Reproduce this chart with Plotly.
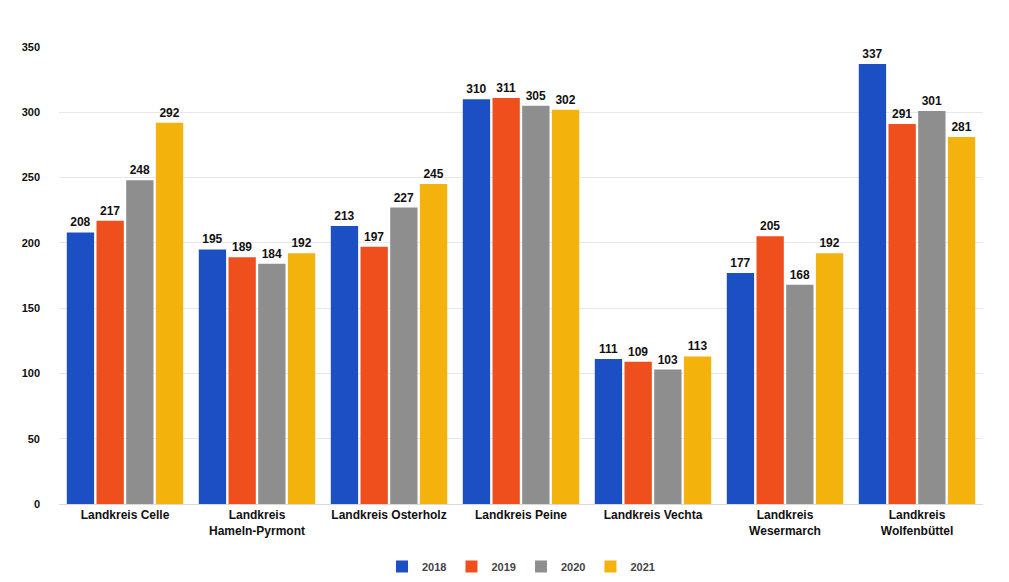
import plotly.graph_objects as go

categories = [
    "Landkreis Celle",
    "Landkreis<br>Hameln-Pyrmont",
    "Landkreis Osterholz",
    "Landkreis Peine",
    "Landkreis Vechta",
    "Landkreis<br>Wesermarch",
    "Landkreis<br>Wolfenbüttel",
]
years = ["2018", "2019", "2020", "2021"]
values_2018 = [208, 195, 213, 310, 111, 177, 337]
values_2019 = [217, 189, 197, 311, 109, 205, 291]
values_2020 = [248, 184, 227, 305, 103, 168, 301]
values_2021 = [292, 192, 245, 302, 113, 192, 281]
y_ticks = [0, 50, 100, 150, 200, 250, 300, 350]

colors = ["#1d4fc4", "#ef4f1c", "#8e8e8e", "#f4b20c"]
series = [values_2018, values_2019, values_2020, values_2021]

font_family = "Liberation Sans Narrow, Arial Narrow, Liberation Sans, Arial, sans-serif"

fig = go.Figure()
for year, vals, col in zip(years, series, colors):
    fig.add_trace(go.Bar(
        x=categories,
        y=vals,
        name=year,
        marker=dict(color=col, line=dict(width=0)),
        text=[str(v) for v in vals],
        textposition="outside",
        textfont=dict(family=font_family, size=12, color="#111111", weight="bold"),
        cliponaxis=False,
    ))

fig.update_layout(
    width=1009,
    height=582,
    barmode="group",
    bargap=0.1,
    bargroupgap=0.08,
    paper_bgcolor="white",
    plot_bgcolor="white",
    margin=dict(l=59, r=26, t=47, b=78, autoexpand=False),
    font=dict(family=font_family, size=12, color="#111111"),
    showlegend=True,
    legend=dict(
        orientation="h",
        x=0.5, xanchor="center",
        y=-0.105, yanchor="top",
        font=dict(family=font_family, size=11, color="#444444", weight="bold"),
        itemwidth=30,
    ),
    xaxis=dict(
        automargin=False,
        showgrid=False,
        showline=True,
        linecolor="#d9d9d9",
        tickfont=dict(family=font_family, size=12, color="#111111", weight="bold"),
        ticks="",
    ),
    yaxis=dict(
        automargin=False,
        range=[0, 350],
        tickvals=y_ticks,
        showgrid=True,
        gridcolor="#e8e8e8",
        zeroline=False,
        tickfont=dict(family=font_family, size=11, color="#111111", weight="bold"),
        ticklabelstandoff=18,
    ),
)

fig.write_html("out.html")
